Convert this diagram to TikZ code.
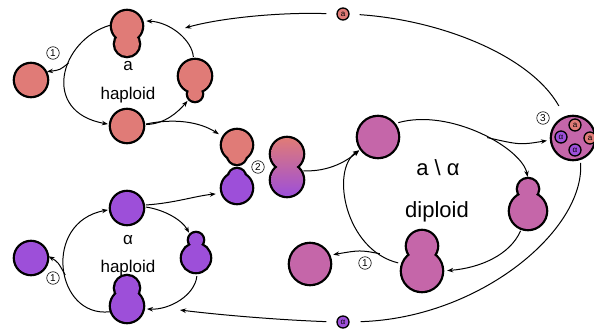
\documentclass[tikz,border=0pt]{standalone}
\usepackage{fontspec}
\setmainfont{Liberation Sans}
\usepackage{xcolor}
\definecolor{pinkcell}{HTML}{E07B77}
\definecolor{purplecell}{HTML}{9D4FD9}
\definecolor{diplcell}{HTML}{C566A9}
\usepackage{tikz}
\usetikzlibrary{arrows.meta,backgrounds}

\begin{document}
\begin{tikzpicture}[x=1pt,y=-1pt,
    rim/.style={circle, inner sep=0pt, draw=black, line width=4.6pt},
    lobe/.style={circle, inner sep=0pt, fill=#1},
    arr/.style={-{Stealth[length=6pt,width=4.5pt]}, line width=1pt},
    spore/.style={circle, draw=black, line width=1.3pt, inner sep=0pt, minimum size=12pt,
        text=black, font=\fontsize{8}{8}\selectfont},
    stagemark/.style={circle, draw, line width=0.6pt, inner sep=0pt, minimum size=12.5pt,
        font=\fontsize{10}{10}\selectfont},
    haplabel/.style={font=\fontsize{17}{20}\selectfont},
    diplabel/.style={font=\fontsize{22}{26}\selectfont}]
    \useasboundingbox (0,0) rectangle (594,329);
    \clip (0,0) rectangle (594,329);

    % cells: black rims go to the background, so buds merge with their mother cell
    \foreach \n/\x/\y/\d/\c in {
        aTop/127/26/30/pinkcell, aTopBud/127/44/24/pinkcell,
        aLeft/31/80/32/pinkcell,
        aRight/195/76/32/pinkcell, aRightBud/195/94/14/pinkcell,
        aBot/127/126/32/pinkcell,
        shA/237/145/30/pinkcell, shABud/237/155/18/pinkcell,
        shAl/237/188/30/purplecell, shAlBud/237/177/16/purplecell,
        zygTop/287/154/32/none, zygBot/287/180/32/none,
        alTop/127/208/32/purplecell,
        alLeft/31/258/32/purplecell,
        alRight/196/258/28/purplecell, alRightBud/196/240/14/purplecell,
        alBot/127/306/32/purplecell, alBotBud/127/288/24/purplecell,
        dTop/378/137/40/diplcell,
        dRight/528/211/36/diplcell, dRightBud/528/189/20/diplcell,
        dBot/422/271/40/diplcell, dBotBud/422/246/30/diplcell,
        dLeft/310/264/40/diplcell,
        ascus/573/138/42/diplcell}{
        \begin{pgfonlayer}{background}
            \node[rim, minimum size=\d pt] at (\x,\y) {};
        \end{pgfonlayer}
        \node[lobe=\c, minimum size=\d pt] (\n) at (\x,\y) {};
    }
    % zygote, shaded from a to alpha
    \shade[top color=pinkcell, bottom color=purplecell]
        (zygTop.center) circle (16pt) (zygBot.center) circle (16pt);

    % spores
    \node[spore, fill=pinkcell] (ascA1) at (575,125) {a};
    \node[spore, fill=pinkcell] (ascA2) at (590,138) {a};
    \node[spore, fill=purplecell] (ascAl1) at (561,137) {α};
    \node[spore, fill=purplecell] (ascAl2) at (575,150) {α};
    \node[spore, fill=pinkcell] (sporeA) at (343,14) {a};
    \node[spore, fill=purplecell] (sporeAl) at (343,322) {α};

    % labels
    \node[haplabel] (aName) at (128,66) {a};
    \node[haplabel] (aPhase) at (128,95) {haploid};
    \node[haplabel] (alName) at (128,240) {α};
    \node[haplabel] (alPhase) at (128,268) {haploid};
    \node[diplabel] (dName) at (438,168) {a \textbackslash{} α};
    \node[diplabel] (dPhase) at (437,212) {diploid};
    \node[stagemark] (markA) at (53,53) {1};
    \node[stagemark] (markAl) at (53,278) {1};
    \node[stagemark] (markD) at (365,263) {1};
    \node[stagemark] (markMate) at (258,167) {2};
    \node[stagemark] (markSpore) at (543,118) {3};

    % a haploid cycle
    \draw[arr, shorten <=2pt, shorten >=3pt] (aTop.175) .. controls (60,40) and (40,112) .. (aBot.175)
        coordinate[pos=0.4] (aSplit);
    \draw[arr, shorten >=2pt] (aSplit) .. controls (60,70) .. (aLeft.30);
    \draw[arr, shorten <=3pt, shorten >=3pt] (aBot.5) .. controls (165,124) and (178,112) .. (aRightBud.220);
    \draw[arr, shorten <=3pt, shorten >=5pt] (aRight.95) .. controls (192,40) and (170,22) .. (aTop.20);
    \draw[arr, shorten <=3pt, shorten >=6pt] (aBot.5) .. controls (175,118) and (200,122) .. (shA.150);

    % alpha haploid cycle
    \draw[arr, shorten <=2pt, shorten >=3pt] (alBot.200) .. controls (55,318) and (42,222) .. (alTop.185)
        coordinate[pos=0.45] (alSplit);
    \draw[arr, shorten >=2pt] (alSplit) .. controls (58,262) .. (alLeft.10);
    \draw[arr, shorten <=3pt, shorten >=3pt] (alTop.5) .. controls (165,210) and (182,220) .. (alRightBud.140);
    \draw[arr, shorten <=4pt, shorten >=4pt] (alRight.275) .. controls (195,295) and (170,310) .. (alBot.350);
    \draw[arr, shorten <=3pt, shorten >=7pt] (alTop.10) .. controls (175,203) and (195,196) .. (shAl.200);

    % mating
    \draw[arr, shorten <=3pt, shorten >=3pt] (zygBot.35) .. controls (330,172) and (348,160) .. (dTop.215);

    % diploid cycle
    \draw[arr, shorten <=5pt, shorten >=2pt] (dTop.40) .. controls (450,108) and (522,148) .. (dRightBud.north)
        coordinate[pos=0.55] (dSplit);
    \draw[arr, shorten >=5pt] (dSplit) .. controls (520,145) .. (ascus.185);
    \draw[arr, shorten <=3pt, shorten >=5pt] (dRight.250) .. controls (510,255) and (480,268) .. (dBot.0);
    \draw[arr, shorten <=5pt, shorten >=3pt] (dBot.160) .. controls (345,250) and (330,170) .. (dTop.215)
        coordinate[pos=0.15] (dSplitLeft);
    \draw[arr, shorten >=5pt] (dSplitLeft) .. controls (360,250) .. (dLeft.25);

    % spores back to the haploid cycles
    \coordinate (aIn) at (185,28);
    \coordinate (alIn) at (180,310);
    \draw[line width=1pt, shorten <=14pt, shorten >=10pt] (ascus.110) .. controls (530,55) and (440,20) .. (sporeA.east);
    \draw[arr, shorten <=10pt] (sporeA.west) .. controls (280,12) and (220,18) .. (aIn);
    \draw[line width=1pt, shorten <=5pt, shorten >=11pt] (ascus.290) .. controls (585,230) and (480,318) .. (sporeAl.east);
    \draw[arr, shorten <=10pt] (sporeAl.west) .. controls (280,320) and (220,315) .. (alIn);
\end{tikzpicture}
\end{document}
